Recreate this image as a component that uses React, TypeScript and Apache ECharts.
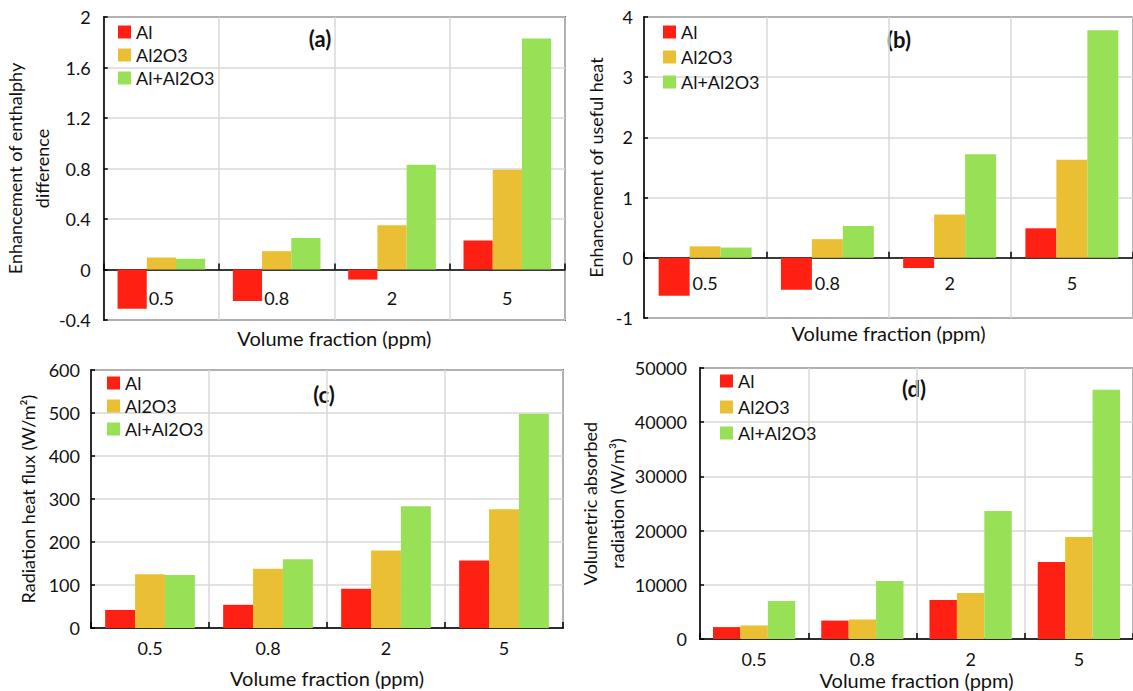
import React, { useEffect, useRef } from "react";
import * as echarts from "echarts";

const categories = ["0.5", "0.8", "2", "5"];
const seriesNames = ["Al", "Al2O3", "Al+Al2O3"];

const enthalpyAl = [-0.31, -0.25, -0.08, 0.23];
const enthalpyAl2O3 = [0.095, 0.145, 0.35, 0.79];
const enthalpyMix = [0.085, 0.25, 0.83, 1.83];

const usefulAl = [-0.63, -0.53, -0.17, 0.49];
const usefulAl2O3 = [0.19, 0.31, 0.72, 1.63];
const usefulMix = [0.17, 0.53, 1.72, 3.78];

const fluxAl = [42, 54, 91, 157];
const fluxAl2O3 = [125, 138, 180, 276];
const fluxMix = [123, 160, 283, 498];

const volAl = [2200, 3400, 7200, 14200];
const volAl2O3 = [2500, 3600, 8500, 18800];
const volMix = [7000, 10700, 23600, 46000];

const colors = ["#FE2012", "#EBBF34", "#98E055"];
const FONT = "Lato";
const H = 691;

export default function App() {
  const ref = useRef<HTMLDivElement>(null);
  useEffect(() => {
    if (!ref.current) return;
    const chart = echarts.init(ref.current, null, { renderer: "svg" });

    const panels = [
      {
        grid: { left: 102, right: 568, top: 17, bottom: 371 },
        y: { min: -0.4, max: 2, interval: 0.4, name: "Enhancement of enthalphy\ndifference", nameGap: 38, margin: 13 },
        x: { labelMargin: 19, nameGap: 58 },
        data: [enthalpyAl, enthalpyAl2O3, enthalpyMix],
        legend: { left: 118, top: 23, itemGap: 5 },
        title: { text: "(a)", x: 320, y: 38 },
      },
      {
        grid: { left: 644, right: -11, top: 17, bottom: 373 },
        y: { min: -1, max: 4, interval: 1, name: "Enhancement of useful heat", nameGap: 35, margin: 11 },
        x: { labelMargin: 16, nameGap: 65 },
        data: [usefulAl, usefulAl2O3, usefulMix],
        legend: { left: 663, top: 23, itemGap: 7 },
        title: { text: "(b)", x: 899, y: 39 },
      },
      {
        grid: { left: 91, right: 570, top: 370, bottom: 63 },
        y: { min: 0, max: 600, interval: 100, name: "Radiation heat flux (W/m\u00B2)", nameGap: 50, margin: 11 },
        x: { labelMargin: 11, nameGap: 40 },
        data: [fluxAl, fluxAl2O3, fluxMix],
        legend: { left: 107, top: 374, itemGap: 5 },
        title: { text: "(c)", x: 324, y: 394 },
      },
      {
        grid: { left: 700, right: -3, top: 368, bottom: 49 },
        y: { min: 0, max: 50000, interval: 10000, name: "Volumetric absorbed\nradiation (W/m\u00B3)", nameGap: 60, margin: 13 },
        x: { labelMargin: 11, nameGap: 31 },
        data: [volAl, volAl2O3, volMix],
        legend: { left: 720, top: 372, itemGap: 8 },
        title: { text: "(d)", x: 914, y: 388 },
      },
    ];

    // place the category axis on the value axis' zero
    const zeroOffset = (p: any) => {
      const h = H - p.grid.top - p.grid.bottom;
      return -((0 - p.y.min) / (p.y.max - p.y.min)) * h;
    };

    const option: any = {
      animation: false,
      backgroundColor: "#ffffff",
      textStyle: { fontFamily: FONT },
      grid: panels.map((p) => ({
        ...p.grid,
        show: true,
        borderColor: "#000",
        borderWidth: 1.5,
        backgroundColor: "transparent",
        containLabel: false,
      })),
      xAxis: panels.map((p, i) => ({
        type: "category",
        gridIndex: i,
        data: categories,
        boundaryGap: true,
        position: "bottom",
        offset: zeroOffset(p),
        name: "Volume fraction (ppm)",
        nameLocation: "middle",
        nameGap: p.x.nameGap,
        nameTextStyle: { fontFamily: FONT, fontSize: 20, color: "#111" },
        axisLine: { show: true, onZero: false, lineStyle: { color: "#000", width: 1.5 } },
        axisTick: { show: true, inside: true, length: 6, lineStyle: { color: "#000", width: 1.5 } },
        axisLabel: { margin: p.x.labelMargin, fontFamily: FONT, fontSize: 18, color: "#111" },
        splitLine: { show: true, lineStyle: { color: "#D9D9D9", width: 1.5 } },
      })),
      yAxis: panels.map((p, i) => ({
        type: "value",
        gridIndex: i,
        min: p.y.min,
        max: p.y.max,
        interval: p.y.interval,
        name: p.y.name,
        nameLocation: "middle",
        nameRotate: 90,
        nameGap: p.y.nameGap,
        nameTextStyle: { fontFamily: FONT, fontSize: 18, color: "#111", lineHeight: 27 },
        axisLine: { show: true, lineStyle: { color: "#000", width: 1.5 } },
        axisTick: { show: true, inside: true, length: 4, lineStyle: { color: "#000", width: 1.5 } },
        axisLabel: {
          margin: p.y.margin,
          fontFamily: FONT,
          fontSize: 18,
          color: "#111",
          formatter: (v: number) => String(Math.round(v * 1000) / 1000),
        },
        splitLine: { show: true, lineStyle: { color: "#D9D9D9", width: 1.5 } },
      })),
      legend: panels.map((p) => ({
        orient: "vertical",
        left: p.legend.left,
        top: p.legend.top,
        itemGap: p.legend.itemGap,
        itemWidth: 13,
        itemHeight: 13,
        icon: "rect",
        padding: 0,
        data: seriesNames,
        textStyle: { fontFamily: FONT, fontSize: 18, color: "#111", lineHeight: 18, padding: [0, 0, 0, 0] },
        selectedMode: false,
      })),
      graphic: panels.map((p) => ({
        type: "text",
        x: p.title.x,
        y: p.title.y,
        style: {
          text: p.title.text,
          fontFamily: FONT,
          fontSize: 22,
          fontWeight: "bold",
          fill: "#111",
          textAlign: "center",
          textVerticalAlign: "middle",
        },
      })),
      series: panels.flatMap((p, i) =>
        p.data.map((d, k) => ({
          type: "bar",
          name: seriesNames[k],
          xAxisIndex: i,
          yAxisIndex: i,
          data: d,
          barGap: "0%",
          barCategoryGap: "24%",
          itemStyle: { color: colors[k] },
        }))
      ),
    };

    chart.setOption(option);
    return () => chart.dispose();
  }, []);

  return (
    <div
      ref={ref}
      style={{ position: "fixed", left: 0, top: 0, width: 1133, height: 691, background: "#fff" }}
    />
  );
}
